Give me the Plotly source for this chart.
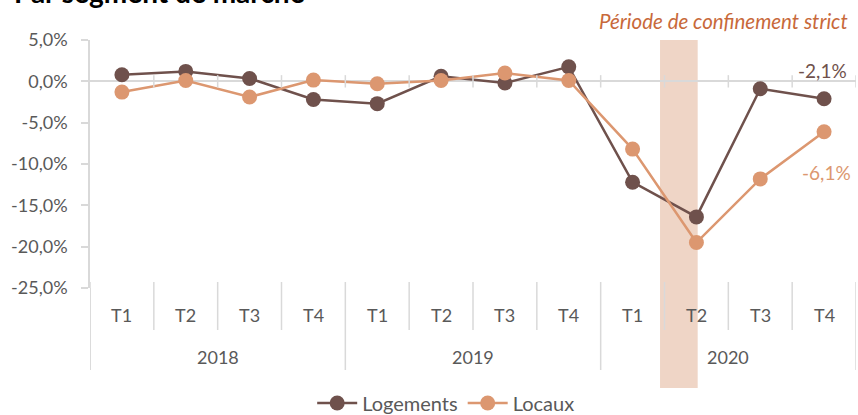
import plotly.graph_objects as go

# ---- data ----
years = ["2018", "2019", "2020"]
quarters = ["T1", "T2", "T3", "T4"]
logements = [0.8, 1.2, 0.35, -2.2, -2.7, 0.6, -0.2, 1.75, -12.2, -16.4, -0.9, -2.1]
locaux = [-1.3, 0.1, -1.9, 0.15, -0.3, 0.1, 1.0, 0.1, -8.2, -19.5, -11.8, -6.1]
y_ticks = [5, 0, -5, -10, -15, -20, -25]
series_names = ["Logements", "Locaux"]

C_LOG = "#6F514C"
C_LOC = "#DC9770"
C_AX = "#D9D9D9"
C_TXT = "#595959"
FONT = "Lato"

n = len(years) * len(quarters)
xpos = list(range(1, n + 1))
cat_labels = [q for _ in years for q in quarters]

W, H = 858, 415
ML, MR, MT, MB = 90, 2, 40, 127
plot_h = H - MT - MB


def py(pix):
    """pixel row -> paper y"""
    return (H - MB - pix) / plot_h


def px(pix):
    """pixel column -> paper x"""
    return (pix - ML) / (W - ML - MR)


fig = go.Figure()
fig.add_trace(go.Scatter(x=xpos, y=logements, name=series_names[0], mode="lines+markers",
                         line=dict(color=C_LOG, width=2.5), marker=dict(size=15, color=C_LOG),
                         cliponaxis=False))
fig.add_trace(go.Scatter(x=xpos, y=locaux, name=series_names[1], mode="lines+markers",
                         line=dict(color=C_LOC, width=2.5), marker=dict(size=15, color=C_LOC),
                         cliponaxis=False))

shapes = []
# lockdown band (behind everything)
shapes.append(dict(type="rect", xref="x", yref="paper", x0=9.43, x1=10.02, y0=py(388), y1=1.0,
                   fillcolor="#EFD5C6", line=dict(width=0), layer="below"))
# zero-line cross ticks at category boundaries
for b in range(1, n + 1):
    shapes.append(dict(type="line", xref="x", yref="y", x0=b + 0.5, x1=b + 0.5, y0=-0.75, y1=0.75,
                       line=dict(color=C_AX, width=1.5)))
# category table separators
for b in range(0, n + 1):
    xb = b + 0.5
    is_year = b % len(quarters) == 0
    y_bot = py(370) if is_year else py(330)
    shapes.append(dict(type="line", xref="x", yref="paper", x0=xb, x1=xb, y0=y_bot, y1=py(282),
                       line=dict(color=C_AX, width=1.5)))
# left axis extension down to table
shapes.append(dict(type="line", xref="x", yref="paper", x0=0.5, x1=0.5, y0=py(370), y1=0,
                   line=dict(color=C_AX, width=1.5)))

annotations = []
for x, lab in zip(xpos, cat_labels):
    annotations.append(dict(x=x, y=py(315), xref="x", yref="paper", text=lab, showarrow=False,
                            font=dict(family=FONT, size=18, color=C_TXT), yanchor="middle"))
for i, yr in enumerate(years):
    xc = i * len(quarters) + (len(quarters) + 1) / 2
    annotations.append(dict(x=xc, y=py(357), xref="x", yref="paper", text=yr, showarrow=False,
                            font=dict(family=FONT, size=18, color=C_TXT), yanchor="middle"))

annotations.append(dict(x=px(850), y=py(21), xref="paper", yref="paper",
                        text="<i>Période de confinement strict</i>", showarrow=False,
                        xanchor="right", yanchor="middle",
                        font=dict(family=FONT, size=20.5, color="#C8693A")))
annotations.append(dict(x=px(849), y=py(70), xref="paper", yref="paper",
                        text=f"{logements[-1]:.1f}%".replace(".", ","), showarrow=False,
                        xanchor="right", yanchor="middle",
                        font=dict(family=FONT, size=19, color=C_LOG)))
annotations.append(dict(x=px(853), y=py(172), xref="paper", yref="paper",
                        text=f"{locaux[-1]:.1f}%".replace(".", ","), showarrow=False,
                        xanchor="right", yanchor="middle",
                        font=dict(family=FONT, size=19, color=C_LOC)))
annotations.append(dict(x=px(12), y=py(10.5), xref="paper", yref="paper",
                        text="<b>Par segment de marché</b>", showarrow=False,
                        xanchor="left", yanchor="bottom",
                        font=dict(family=FONT, size=28, color="#000000")))

fig.update_layout(
    width=W, height=H, autosize=False,
    margin=dict(l=ML, r=MR, t=MT, b=MB, pad=0, autoexpand=False),
    paper_bgcolor="white", plot_bgcolor="white",
    font=dict(family=FONT, color=C_TXT),
    showlegend=True,
    legend=dict(orientation="h", x=0.465, xanchor="center", y=py(403), yanchor="middle",
                font=dict(family=FONT, size=20, color=C_TXT), bgcolor="rgba(0,0,0,0)",
                itemwidth=40),
    xaxis=dict(range=[0.5, n + 0.5], visible=False, showgrid=False, zeroline=False),
    yaxis=dict(range=[-25, 5], tickvals=y_ticks,
               ticktext=[f"{v:.1f}%".replace(".", ",") for v in y_ticks],
               showline=True, linecolor=C_AX, linewidth=1.5, ticks="outside", ticklen=7,
               tickcolor=C_AX, tickwidth=1.5, ticklabelstandoff=10,
               tickfont=dict(family=FONT, size=18, color=C_TXT),
               showgrid=False, zeroline=True, zerolinecolor=C_AX, zerolinewidth=1.5),
    shapes=shapes, annotations=annotations,
)

fig.write_html("out.html", config={"displayModeBar": False},
               post_script="document.body.style.margin='0';document.body.style.padding='0';")
